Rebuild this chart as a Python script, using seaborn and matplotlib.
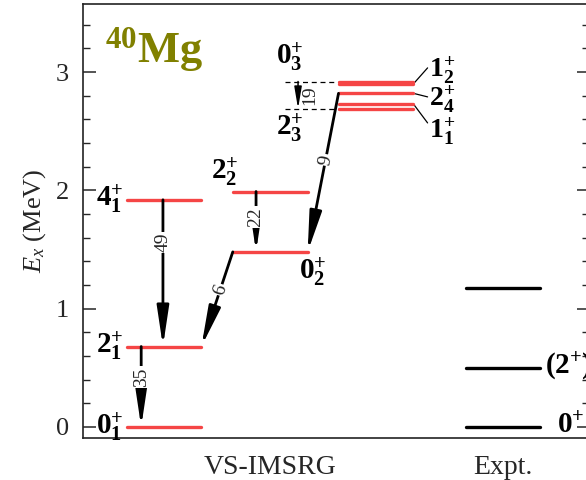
import numpy as np
import pandas as pd
import matplotlib
matplotlib.use("Agg")
import matplotlib.pyplot as plt
from matplotlib.ticker import MultipleLocator
import seaborn as sns

# ---- level energies (MeV) ----
vs_col1_states = ["0_1", "2_1", "4_1"]
vs_col1_E = [0.0, 0.68, 1.92]
vs_col2_states = ["0_2", "2_2"]
vs_col2_E = [1.48, 1.99]
vs_col3_states = ["2_3", "1_1", "2_4", "1_2", "0_3"]
vs_col3_E = [2.69, 2.73, 2.82, 2.90, 2.92]
expt_states = ["0", "(2)", ""]
expt_E = [0.0, 0.50, 1.175]

# ---- E2 transitions: initial, final, B(E2) ----
trans_from = ["4_1", "2_1", "2_2", "2_4", "0_2", "0_3"]
trans_to = ["2_1", "0_1", "0_2", "0_2", "2_1", "2_3"]
trans_be2 = [49, 35, 22, 9, 6, 19]

xtick_labels = ["VS-IMSRG", "Expt."]
nucleus = "Mg"
mass_number = "40"

# ---- style ----
sns.set_theme(style="ticks")
plt.rcParams["font.family"] = ["Liberation Serif", "DejaVu Serif"]
plt.rcParams["mathtext.fontset"] = "custom"
plt.rcParams["mathtext.rm"] = "Liberation Serif"
plt.rcParams["mathtext.it"] = "Liberation Serif:italic"
plt.rcParams["mathtext.bf"] = "Liberation Serif:bold"

RED = "#f54545"
OLIVE = "#808000"

# column geometry (x in axis units)
col_centers = [1.60, 3.70, 5.79, 8.30]
half_w = 0.74

columns = [
    (vs_col1_states, vs_col1_E, "VS-IMSRG"),
    (vs_col2_states, vs_col2_E, "VS-IMSRG"),
    (vs_col3_states, vs_col3_E, "VS-IMSRG"),
    (expt_states, expt_E, "Expt."),
]

rows = []
level_E = {}
level_col = {}
for ci, (states, energies, src) in enumerate(columns):
    xc = col_centers[ci]
    for k, (s, e) in enumerate(zip(states, energies)):
        uid = f"{src}-{ci}-{k}"
        rows.append(dict(x=xc - half_w, E=e, level=uid, source=src))
        rows.append(dict(x=xc + half_w, E=e, level=uid, source=src))
        if src == "VS-IMSRG":
            level_E[s] = e
            level_col[s] = ci
levels = pd.DataFrame(rows)

fig = plt.figure(figsize=(5.86, 4.80), dpi=100)
ax = fig.add_axes([83 / 586, 42 / 480, 506 / 586, 434 / 480])
ax.set_xlim(0, 10)
ax.set_ylim(-0.093, 3.575)

sns.lineplot(data=levels, x="x", y="E", units="level", estimator=None,
             hue="source", palette={"VS-IMSRG": RED, "Expt.": "black"},
             sort=False, linewidth=2.4, legend=False, ax=ax, zorder=3)


def state_label(s):
    j, n = s.split("_")
    return r"$\mathbf{%s}^{\mathbf{+}}_{\mathbf{%s}}$" % (j, n)


lab_kw = dict(fontsize=21, color="black")

# level labels, column 1 (left of the levels)
for s in vs_col1_states:
    ax.text(col_centers[0] - half_w - 0.06, level_E[s], state_label(s),
            ha="right", va="center", **lab_kw)
# column 2
ax.text(2.81, level_E["2_2"] + 0.165, state_label("2_2"), ha="center", va="center", **lab_kw)
ax.text(4.53, level_E["0_2"] - 0.17, state_label("0_2"), ha="center", va="center", **lab_kw)
# column 3: outer states on the left, others with leader lines on the right
ax.text(4.09, 3.12, state_label("0_3"), ha="center", va="center", **lab_kw)
ax.text(4.09, 2.52, state_label("2_3"), ha="center", va="center", **lab_kw)
x_end = col_centers[2] + half_w
for s, y_tip, y_lab in zip(["1_2", "2_4", "1_1"], [3.035, 2.79, 2.57],
                           [3.01, 2.765, 2.50]):
    ax.plot([x_end, x_end + 0.28], [level_E[s], y_tip], color="black", lw=0.9)
    ax.text(x_end + 0.3, y_lab, state_label(s), ha="left", va="center",
            fontsize=20, color="black")

# experimental labels
for s, e in zip(expt_states, expt_E):
    if not s:
        continue
    if s.startswith("("):
        txt = r"$\mathbf{(2^{+})}$"
        xl = col_centers[3] + half_w + 0.10
    else:
        txt = r"$\mathbf{0^{+}}$"
        xl = col_centers[3] + half_w + 0.32
    ax.text(xl, e + 0.01, txt, ha="left", va="center", **lab_kw)

# ---- transitions ----
arrow_x = {("4_1", "2_1"): 1.58, ("2_1", "0_1"): 1.15,
           ("2_2", "0_2"): 3.42, ("0_3", "2_3"): 4.25}
label_frac = {("4_1", "2_1"): 0.29, ("2_1", "0_1"): 0.38,
              ("2_2", "0_2"): 0.42, ("2_4", "0_2"): 0.42,
              ("0_2", "2_1"): 0.40}

big_arrow = dict(arrowstyle="-|>,head_length=2.4,head_width=0.36",
                 color="black", lw=2.0, shrinkA=0, shrinkB=0, mutation_scale=10)
small_arrow = dict(arrowstyle="-|>,head_length=1.3,head_width=0.22",
                   color="black", lw=1.1, shrinkA=0, shrinkB=0, mutation_scale=10)

for a, b, val in zip(trans_from, trans_to, trans_be2):
    ea, eb = level_E[a], level_E[b]
    key = (a, b)
    if key == ("0_3", "2_3"):
        x = arrow_x[key]
        x_left = col_centers[2] - half_w
        for e in (ea, eb):
            ax.plot([3.99, x_left], [e, e], color="black", lw=0.9, ls=(0, (4, 3)))
        ax.annotate("", xy=(x, eb), xytext=(x, ea), arrowprops=small_arrow, zorder=4)
        ax.text(x + 0.24, (ea + eb) / 2, str(val), rotation=90, fontsize=14,
                ha="center", va="center")
        continue
    if key in arrow_x:
        xa = xb = arrow_x[key]
    else:
        # inter-column transition: left end of initial level to right end of final level
        xa = col_centers[level_col[a]] - half_w
        xb = col_centers[level_col[b]] + half_w
    ax.annotate("", xy=(xb, eb), xytext=(xa, ea), arrowprops=big_arrow, zorder=4)
    t = label_frac[key]
    xl, yl = xa + t * (xb - xa), ea + t * (eb - ea)
    pa = ax.transData.transform((xa, ea))
    pb = ax.transData.transform((xb, eb))
    ang = np.degrees(np.arctan2(pa[1] - pb[1], pa[0] - pb[0]))
    ax.text(xl, yl, str(val), rotation=ang, fontsize=14, ha="center", va="center",
            zorder=5, bbox=dict(boxstyle="square,pad=0.05", fc="white", ec="none"))

# nucleus label
ax.text(0.435, 3.085, r"$^{\mathbf{%s}}$%s" % (mass_number, nucleus), fontsize=32,
        fontweight="bold", color=OLIVE, ha="left", va="baseline")

# ---- axes ----
ax.set_xticks([col_centers[1], col_centers[3]])
ax.set_xticklabels(xtick_labels, fontsize=20)
ax.tick_params(axis="x", length=0, pad=12)
ax.yaxis.set_major_locator(MultipleLocator(1))
ax.yaxis.set_minor_locator(MultipleLocator(0.2))
ax.tick_params(axis="y", which="both", direction="in", left=True, right=True,
               labelsize=19, pad=10)
ax.tick_params(axis="y", which="major", length=9, width=1.1)
ax.tick_params(axis="y", which="minor", length=5, width=1.0)
ax.set_ylabel(r"$E_x$ (MeV)", fontsize=19, labelpad=6)
ax.set_xlabel("")
for sp in ax.spines.values():
    sp.set_linewidth(1.2)
    sp.set_color("#222222")

fig.savefig("out.png", dpi=100)
